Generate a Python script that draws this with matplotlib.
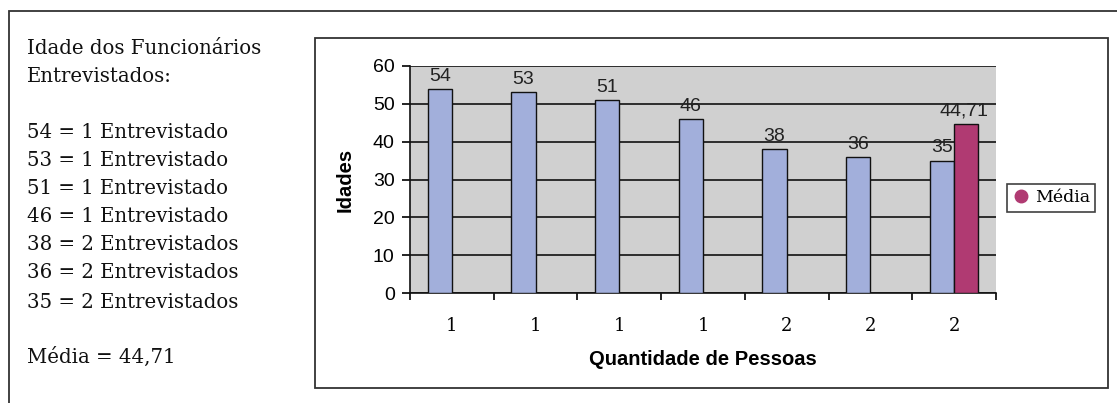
import matplotlib
matplotlib.use("Agg")
import matplotlib.pyplot as plt
from matplotlib.patches import Rectangle
from matplotlib.lines import Line2D
import numpy as np

# ---- data ----
categories = ["1", "1", "1", "1", "2", "2", "2"]
idades = [54, 53, 51, 46, 38, 36, 35]
media_value = 44.71
media_label = "44,71"
y_ticks = [0, 10, 20, 30, 40, 50, 60]
left_lines = [
    "Idade dos Funcionários",
    "Entrevistados:",
    "",
    "54 = 1 Entrevistado",
    "53 = 1 Entrevistado",
    "51 = 1 Entrevistado",
    "46 = 1 Entrevistado",
    "38 = 2 Entrevistados",
    "36 = 2 Entrevistados",
    "35 = 2 Entrevistados",
    "",
    "Média = 44,71",
]

W, H = 1117, 403
fig = plt.figure(figsize=(W / 100, H / 100), dpi=100)
fig.patch.set_facecolor("white")

def fx(px):
    return px / W

def fy(py):
    return 1 - py / H

# outer frame
fig.patches.append(Rectangle((fx(9), fy(420)), fx(1140) - fx(9), fy(11) - fy(420),
                             transform=fig.transFigure, fill=False, edgecolor="#333333",
                             linewidth=1.3, zorder=0))
# chart frame
fig.patches.append(Rectangle((fx(315), fy(388)), fx(1108) - fx(315), fy(38) - fy(388),
                             transform=fig.transFigure, fill=False, edgecolor="#333333",
                             linewidth=1.3, zorder=0))

serif = ["DejaVu Serif", "Liberation Serif"]
sans = ["Liberation Sans", "DejaVu Sans"]

# left text
line_y = [48, 76, None, 133, 161, 189, 217, 245, 273, 302, None, 357]
for txt, yy in zip(left_lines, line_y):
    if yy is None:
        continue
    fig.text(fx(27), fy(yy), txt, family=serif, fontsize=14.2, ha="left", va="center",
             color="#111111")

# axes
ax = fig.add_axes([fx(410), fy(293), fx(996) - fx(410), fy(66) - fy(293)])
ax.set_facecolor("#d0d0d0")
n = len(categories)
x = np.arange(n)
bw = 0.29
blue = "#a2afdb"
mag = "#b03a72"
ax.bar(x - bw / 2, idades, width=bw, color=blue, edgecolor="#111111", linewidth=1.0, zorder=3)
ax.bar([x[-1] + bw / 2], [media_value], width=bw, color=mag, edgecolor="#111111",
       linewidth=1.0, zorder=3)

for xi, v in zip(x, idades):
    ax.annotate(str(v), (xi - bw / 2, v), xytext=(0, 3), textcoords="offset points",
                ha="center", va="bottom", family=sans, fontsize=14, color="#222222", zorder=4)
ax.annotate(media_label, (x[-1] + bw / 2, media_value), xytext=(-2, 3), textcoords="offset points",
            ha="center", va="bottom", family=sans, fontsize=14, color="#222222", zorder=4)

ax.set_xlim(-0.5, n - 0.5)
ax.set_ylim(0, 60)
ax.set_yticks(y_ticks)
ax.yaxis.grid(True, color="#111111", linewidth=1.2, zorder=1)
ax.set_axisbelow(True)
ax.tick_params(axis="y", direction="out", length=6, width=1.2, labelsize=14, pad=5)
for lab in ax.get_yticklabels():
    lab.set_family(sans)

ax.set_xticks(np.arange(n + 1) - 0.5)
ax.set_xticklabels([])
ax.tick_params(axis="x", which="major", direction="out", length=5, width=1.2)
ax.set_xticks(x, minor=True)
ax.set_xticklabels(categories, minor=True, family=serif, fontsize=13)
ax.tick_params(axis="x", which="minor", length=0, pad=17)

for s in ["top", "right"]:
    ax.spines[s].set_visible(False)
for s in ["left", "bottom"]:
    ax.spines[s].set_linewidth(1.2)
    ax.spines[s].set_color("#111111")

ax.set_xlabel("Quantidade de Pessoas", family=sans, fontsize=14.5, fontweight="bold", labelpad=11)
ax.set_ylabel("Idades", family=sans, fontsize=14.5, fontweight="bold", labelpad=13)

# legend
handle = Line2D([], [], marker="o", linestyle="none", markersize=9, markerfacecolor=mag,
                markeredgecolor=mag)
leg = fig.legend([handle], ["Média"], loc="center", bbox_to_anchor=(fx(1051), fy(198)),
                 prop={"family": serif, "size": 12.5}, frameon=True, fancybox=False,
                 edgecolor="#111111", handletextpad=0.3, borderpad=0.3, handlelength=1.0,
                 borderaxespad=0)
leg.get_frame().set_linewidth(1.2)

fig.savefig("out.png", dpi=100)
